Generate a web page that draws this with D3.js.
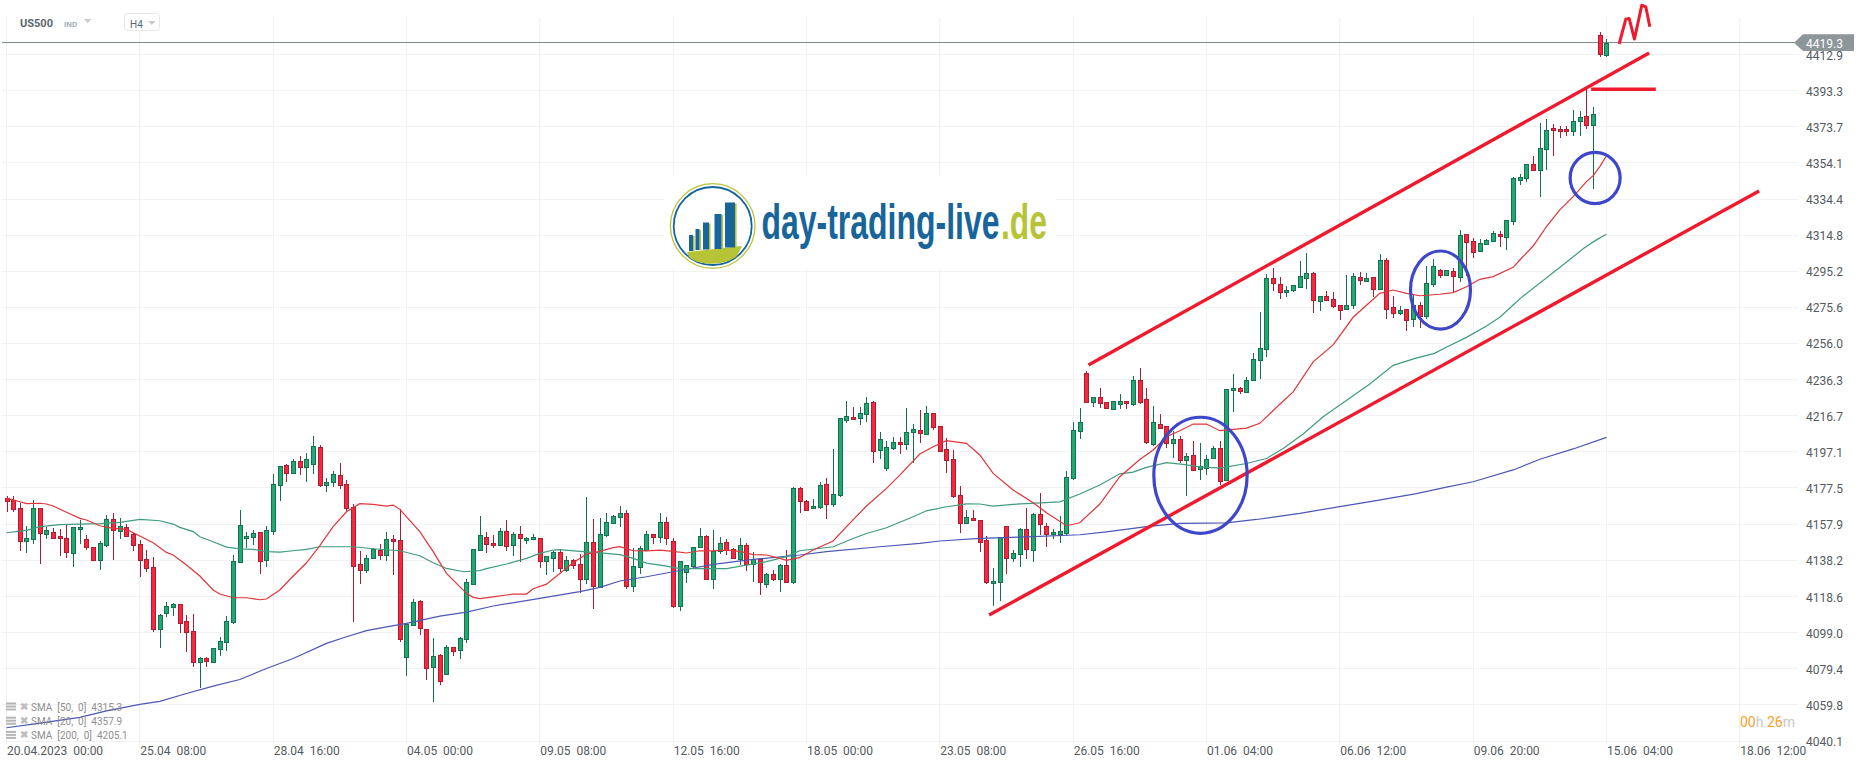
<!DOCTYPE html>
<html><head><meta charset="utf-8">
<script src="https://cdn.jsdelivr.net/npm/d3@7/dist/d3.min.js"></script>
<style>
html,body{margin:0;padding:0;background:#fff;overflow:hidden}
svg{display:block;font-family:Roboto,sans-serif}
text{white-space:pre}
</style></head><body><svg id="c" width="1866" height="767"></svg>
<script>
const open=[4171.9,4171,4166.4,4148.3,4149.6,4166.4,4152.1,4153.8,4151.2,4150.1,
4142,4154.9,4149.6,4145.3,4138,4146.2,4160.5,4154.3,4156.5,4152.5,
4146.9,4138.7,4134.4,4100.7,4109.4,4112.7,4114.3,4105.1,4099.6,4082.8,
4085,4082.8,4089.9,4093.7,4104.5,4137.1,4150,4150.7,4153.4,4138.2,
4153.8,4178.7,4189.8,4185.4,4192,4188.7,4190.3,4199.6,4178.7,4180.6,
4184.4,4179.5,4167,4136,4132.6,4139.1,4143.6,4140.7,4149.6,4149.1,
4085.9,4102.7,4115.9,4101.1,4079.9,4086.8,4076.1,4091.3,4089.3,4095.1,
4125.1,4143.6,4150.7,4147.4,4146.3,4153.9,4146.1,4152.3,4148.9,4149.6,
4150.1,4137.6,4139.6,4142.7,4132.7,4138.2,4136,4127.9,4148,4123.7,
4151.6,4158.3,4161.3,4163.7,4123.9,4134.2,4143.6,4152.3,4150.7,4158.8,
4148.5,4113,4131.7,4134.7,4145.1,4151.2,4127.9,4143.1,4148,4144.2,
4138.5,4146.3,4136,4138.7,4125.1,4130.6,4127.9,4135.5,4126.1,4177.3,
4170.6,4166.4,4167,4179.4,4168.6,4173.3,4214.2,4215.8,4215.3,4217.5,
4224,4197.9,4188.1,4199,4202.3,4201.2,4207.7,4208.8,4206.6,4218,
4210.9,4198.5,4193,4173.5,4158.3,4161,4159.9,4149,4125.7,4126.2,
4156.6,4139.3,4141.4,4155,4143.6,4163.2,4156.6,4152.3,4152.3,4152.8,
4182.7,4208.2,4239.7,4224,4226.7,4224,4220.7,4222.9,4224.5,4223.4,
4236.4,4225.6,4201.7,4212.5,4210.9,4201.7,4203.9,4192.5,4195.2,4187.6,
4188.7,4193.5,4199,4181.6,4230.5,4231.6,4229.7,4235.9,4246.8,4252.8,
4291.4,4288.1,4283.8,4284.8,4286.5,4291.4,4294.1,4278.9,4281.6,4280,
4276.7,4274.5,4276.7,4291.9,4289.7,4291.9,4285.4,4301.1,4275.6,4272.3,
4274.5,4269.1,4276.7,4270.7,4288.1,4295.7,4293,4295.2,4291.9,4315.2,
4311.4,4306,4309.8,4311.4,4315.2,4314,4322.1,4344.4,4345.7,4353.3,
4349.8,4361.2,4372.8,4372.3,4372.3,4371,4376.4,4379.3,4374.3,4423.5,4412.8];
const close=[4170.1,4165.9,4148.3,4150.1,4166.4,4152.9,4154.5,4150.7,4150,4142.4,
4156.1,4156.1,4145.1,4138,4147.4,4160.5,4154.3,4157,4151.6,4146.3,
4138,4133.9,4100.7,4108.3,4113.2,4114.3,4104,4098.9,4082.8,4085,
4083.2,4090.4,4094.2,4105.1,4137.7,4157.2,4151.2,4152.9,4137.5,4154.5,
4179.5,4189.2,4185.3,4192,4188.5,4193,4200.1,4178.7,4180.6,4184.9,
4178.9,4166.3,4134.8,4132.8,4139.3,4144.2,4140.7,4149.6,4148.3,4095.3,
4103.6,4115.4,4101.1,4079.9,4086.1,4072.9,4091,4089.1,4095.8,4126.3,
4144.2,4151.8,4146.9,4146.1,4153.9,4145.6,4152.3,4149.9,4150.1,4150.7,
4137.6,4140.4,4142.7,4134.2,4138.2,4135.5,4127.9,4148,4123.9,4152.3,
4158.8,4162.3,4163.7,4123.9,4134.9,4144.7,4152.3,4150.7,4158.8,4150.1,
4113,4137.6,4135.5,4145.2,4151.2,4127.9,4143.1,4147.4,4143.6,4139.3,
4146.3,4136,4138.7,4126.2,4130.6,4127.9,4135.5,4126.2,4177.3,4170.2,
4165.9,4167.7,4178.9,4168.6,4174,4215.3,4216.4,4214.7,4218,4223.4,
4197.4,4203.9,4199.5,4202.3,4201.2,4207.7,4209.3,4207.1,4218,4210.4,
4197.4,4192.5,4172.9,4158.3,4161.5,4159.9,4148,4126.2,4126.8,4150.7,
4139.3,4142,4155,4144.2,4163.2,4157.7,4152.3,4153.4,4153.9,4183.2,
4208.8,4213.1,4224,4226.7,4223.4,4220.7,4225,4224.5,4223.4,4236.4,
4224.5,4202.2,4213.6,4210.4,4201.7,4203.9,4192.3,4194.6,4187,4189.2,
4193.5,4199,4180.9,4231,4231.6,4229.7,4236.4,4247.3,4253.3,4291.4,
4288.6,4283.8,4284.8,4287.6,4292.4,4294.1,4279.4,4281.6,4279.4,4276,
4274,4276.7,4292.4,4290.3,4291.4,4285.4,4301.1,4274.5,4272.3,4274,
4268.5,4276.7,4270.7,4288.6,4297.9,4293,4295.7,4292.4,4314.7,4310.7,
4305.5,4310.4,4312,4315.8,4314.2,4323,4345.7,4346.2,4353.3,4349.8,
4362,4371.7,4371.5,4371,4371,4376.6,4378.8,4374.3,4380.4,4413.4,4419.3];
const high=[4173.1,4173.1,4169.5,4156.8,4171,4166.4,4156.5,4155.6,4155,4157.9,
4156.5,4160.1,4151.8,4145.6,4148.9,4162.8,4163.7,4161.2,4157.9,4152.9,
4149.2,4143.8,4140,4109.1,4115.6,4115,4114.3,4108.3,4109.1,4085.7,
4085.5,4090.4,4096.4,4108,4141.1,4165.5,4153.6,4154.5,4153.4,4156.8,
4184.9,4189.2,4190.3,4193.2,4194.7,4196.3,4205.7,4200.6,4182.7,4186.7,
4190.9,4181.6,4168.6,4143.3,4141.1,4144.7,4146.9,4153.6,4152,4165.9,
4103.6,4117,4116.5,4101.1,4096.2,4087.3,4092.2,4091.3,4096.7,4128.1,
4144.2,4162.3,4153.4,4151.9,4155.6,4160.1,4153.4,4156.8,4150.7,4152.3,
4150.1,4140.4,4143.2,4144.3,4140.4,4138.9,4141.6,4172.6,4160.6,4161.2,
4163.7,4162.8,4167.7,4165.3,4144.7,4146,4154.1,4152.3,4163.7,4161.7,
4150.1,4137.6,4135.5,4145.2,4155.6,4151.8,4154.6,4150.7,4149.6,4144.7,
4150.1,4147.4,4142.5,4139.3,4131.1,4132.7,4136,4143.6,4177.8,4177.8,
4170.9,4171.5,4180.5,4182.7,4198.5,4215.3,4224.5,4221.3,4221.3,4226.7,
4224.5,4207.7,4202.8,4205,4205,4220.7,4212,4219.6,4221.8,4218,
4210.9,4204.4,4197.9,4178.4,4165.3,4165.3,4159.9,4151.2,4133.8,4150.7,
4156.6,4143.6,4155.6,4166.4,4163.7,4174.6,4158.3,4155,4162.1,4186.5,
4213.1,4220.7,4241.1,4226.7,4231.6,4224,4225,4228.8,4224.5,4238.3,
4242.4,4231.6,4222,4217.6,4210.9,4208.6,4206,4196.3,4202.8,4201.7,
4195.2,4200.1,4202.8,4231,4239.3,4232.1,4237.5,4250.6,4272.9,4293.5,
4296.8,4291.9,4287,4287.6,4300.6,4304.9,4294.6,4281.6,4284.3,4283.8,
4276.7,4293,4294.1,4294.6,4294.1,4291.9,4304.4,4302.2,4281.6,4276.2,
4274.5,4282.1,4278.3,4297.9,4301.7,4296.2,4295.7,4296.8,4317.6,4315.2,
4313.1,4312.5,4312.5,4316.9,4316.9,4323,4346.6,4348,4353.3,4357.8,
4375.5,4377.9,4375.2,4374.1,4374.1,4382.8,4382,4394,4384.2,4425.1,4421.1];
const low=[4164.6,4164.6,4143.4,4142.4,4147.1,4136.2,4150,4150.7,4140.6,4139.6,
4134.8,4147.1,4143.8,4138,4132.9,4145.6,4138.4,4150,4151.4,4143.4,
4129.3,4131.7,4099.5,4090.8,4107.6,4108.2,4098.9,4088.4,4080.5,4068.7,
4080.5,4082.8,4086.4,4089.1,4103.4,4137.1,4144.7,4146.7,4131,4134.8,
4152,4170.6,4180.7,4185.4,4184.5,4180.7,4185.3,4178.2,4175.5,4178.2,
4176.9,4165.2,4104.9,4125.3,4131.5,4139.1,4138.4,4137.8,4130.2,4094,
4075.6,4102.7,4097.7,4073.4,4061.5,4070.5,4076.1,4086.4,4084.8,4093.1,
4125.1,4143.6,4142.3,4145.1,4146.3,4143.4,4140.7,4137.1,4147.2,4149.6,
4134.2,4130.4,4132,4132,4132,4133.7,4120.3,4125.5,4111.9,4123.7,
4151,4158.3,4156.5,4122.8,4121.2,4130.9,4143.6,4147.2,4147.8,4146.7,
4112.5,4110.8,4126.1,4133.7,4145.1,4127.9,4122.6,4141.6,4141.3,4139.3,
4135.5,4132.6,4126.6,4119.5,4123.3,4126.8,4121.2,4125.7,4125.5,4164.1,
4165.9,4166.4,4165.9,4160.4,4167,4172.7,4212.9,4214.7,4211.8,4213.5,
4191.2,4193,4186.5,4197.9,4196.1,4197.9,4190.8,4201.7,4206.1,4208.8,
4197.4,4185.4,4171.8,4152.8,4158.3,4159.4,4142.5,4125.1,4113.6,4116.3,
4130.9,4137.1,4134.7,4138.7,4137.1,4151.8,4145.6,4149.6,4147.4,4151.2,
4181.6,4203.9,4223.4,4221.6,4220.9,4220.2,4220.3,4220.3,4220.3,4222.1,
4223,4201.5,4200.1,4210.4,4199.3,4193.9,4191.2,4173.3,4186.7,4181.8,
4184.5,4193,4179.1,4181.6,4218.9,4228.7,4229.4,4235.9,4236.5,4248.8,
4284.7,4280.1,4281.4,4284.1,4286.5,4285.4,4272.7,4273.8,4279.4,4275.4,
4268.5,4274,4274.5,4287.6,4289.2,4281.4,4284.8,4269.1,4269.6,4271.3,
4262.6,4264.7,4264.2,4269.1,4286.5,4291.4,4292.4,4283.2,4289.2,4292.4,
4302.2,4305.5,4309.8,4310.9,4308.2,4306.7,4320.3,4342,4343.5,4349.8,
4335.7,4350.2,4357.8,4367.6,4368.7,4368.7,4368.7,4372.5,4339.7,4411.7,4411.7];

const sma20Bar=[0,1,2,3,5,6,7,9,11,12,14,16,18,20,22,24,25,27,29,31,32,34,36,38,39,41,43,45,47,49,51,53,55,57,58,59,62,64,66,69,70,71,73,76,78,79,81,83,85,87,89,91,92,94,96,98,100,102,104,106,108,110,112,114,116,117,119,121,124,126,129,132,134,137,139,141,144,146,148,151,154,156,159,161,164,167,170,172,174,176,178,180,182,184,186,188,191,193,196,199,202,204,206,208,210,212,215,217,219,221,223,226,227,229,231,233,235,237,238,239,240];
const sma20=[4171.9,4171,4170,4169,4169.2,4168.8,4167.7,4164.3,4161,4160.1,4157,4155.6,4155,4151.4,4147.8,4142.5,4141.1,4135.7,4129.7,4122.1,4119.9,4117.9,4117.9,4116.8,4117.2,4122.1,4129.7,4136.9,4146.2,4156.5,4164.6,4169,4168.6,4167.7,4168.2,4165.9,4153.8,4142.9,4131.1,4120.3,4118.1,4117.4,4118.4,4119.9,4119.9,4122.8,4125.3,4131.1,4136.9,4141.6,4143.1,4145.1,4145.6,4143.4,4143.3,4143.8,4143.1,4142.2,4143.4,4143.4,4143.8,4143.1,4141.3,4141.1,4139.3,4138.2,4139.8,4143.8,4148.7,4156.5,4167.7,4177.3,4184.5,4195.9,4199.9,4203.2,4201.7,4195.4,4185.4,4176.4,4169.5,4164.1,4157,4158.6,4168.8,4183.6,4193,4198.1,4205.3,4208.6,4212.2,4212.2,4208.6,4209.3,4210,4212.6,4223,4229.7,4246,4255.2,4270.2,4276.7,4283.2,4285,4283.2,4281.9,4282.7,4283.6,4286.8,4290.8,4292.3,4297.3,4301.3,4308.9,4319.4,4328.5,4335.7,4343.9,4347.1,4352,4357.9];

const sma50Bar=[0,3,5,8,11,14,17,20,23,25,26,28,29,31,33,35,37,39,41,43,45,47,50,52,55,59,62,64,66,68.6,71,72,75,78,80,82,83,86,89,92,94,96,99,101,104,108,111,114,117,119,124,127,129,132,136,138,141,144,146,148,151,158,161,164,167,169,171,174,176.5,179,182,186,189,191.5,194.5,197.5,200.6,204.5,208,211.3,214.2,216.2,219,222,224,226,227.4,234.4,236.6,238.6,240];
const sma50=[4153.2,4154.5,4156.5,4157.6,4157.9,4158.1,4158.8,4160.5,4159.7,4157.9,4156.1,4153.8,4151,4148.3,4145.4,4144.4,4144.2,4142.9,4142.7,4143.4,4144.2,4145.6,4145.6,4145.6,4144.5,4143.4,4140.7,4136.9,4133.8,4132,4132.6,4133.7,4136.2,4139.3,4142,4143.8,4144,4143.1,4142.3,4141.3,4139.3,4136.7,4135.1,4133.7,4133.7,4133.7,4135.6,4137.5,4140.2,4143.4,4145.6,4150.1,4152.8,4155.9,4161.9,4165.1,4167.3,4168.9,4168.8,4167.7,4168.6,4170,4174.2,4179.1,4185.2,4186.1,4188.7,4191.3,4190.3,4189,4188.3,4190.8,4193.5,4199,4206.8,4216.2,4224,4234,4244.1,4247.9,4250.6,4254.3,4259.3,4265.5,4270.2,4276.9,4281.4,4301.3,4307.7,4312.5,4315.3];

const sma200Bar=[0,4,11,15,20,23,27,31,35,39,43,48,51,54,57,60,65,69,73,80,86,89,92,96,100,106,112,119,123,131,137,140,146,153,161,165,171,176,183,187.5,194,200,205,211.5,216,220,226,230,235,240];
const sma200=[4047.3,4049.3,4052.9,4056.5,4060,4061.6,4065.9,4069.9,4073.5,4079.5,4084.9,4093.1,4096.7,4100,4102.1,4104,4107.9,4110.1,4113.4,4117.6,4121.2,4123.5,4127,4129.3,4132,4136,4138.7,4141.1,4142.9,4145.6,4147.4,4148.7,4150.1,4151,4152.1,4153.7,4156.5,4158.3,4158.6,4160.4,4163.7,4167.4,4170.4,4174.4,4178,4180.9,4187.3,4193.1,4198.7,4205];

const priceTicks=[4412.9,4393.3,4373.7,4354.1,4334.4,4314.8,4295.2,4275.6,4256.0,4236.3,4216.7,4197.1,4177.5,4157.9,4138.2,4118.6,4099.0,4079.4,4059.8,4040.1];
const timeTickBars=[0,20,40,60,80,100,120,140,160,180,200,220,240,260];
const timeTickLabels=["20.04.2023  00:00","25.04  08:00","28.04  16:00","04.05  00:00","09.05  08:00","12.05  16:00","18.05  00:00","23.05  08:00","26.05  16:00","01.06  04:00","06.06  12:00","09.06  20:00","15.06  04:00","18.06  12:00"];
const lastPrice=4419.3;
const legendLabels=["SMA  [50,  0]  4315.3","SMA  [20,  0]  4357.9","SMA  [200,  0]  4205.1"];

// hand-drawn annotations, in chart units (bar index, price)
const channelUpper=[[162.3,4244.3],[246.4,4413.7]];
const channelLower=[[147.4,4108.5],[262.9,4338.8]];
const highLevel=[[237.7,4394],[247.4,4394]];
const zigzag=[[241.9,4418.6],[242.9,4432.1],[243.4,4432.5],[244.2,4421.3],[245.3,4439.7],[245.9,4438.8],[246.5,4428]];
const circles=[{bar:179.1,price:4184.4,bars:7,pts:31.5},{bar:215.1,price:4285,bars:4.5,pts:21.2},{bar:238.3,price:4345.8,bars:3.75,pts:13.9}];

const svg=d3.select("#c");
const x=d3.scaleLinear().domain([0,260]).range([6.5,1739.8]);
const y=d3.scaleLinear().domain([4040.1,4412.9]).range([741,54.5]);
const GRID="#f2f2f3", TXT="#555a5e";

// grid
const grid=svg.append("g").attr("shape-rendering","crispEdges").attr("stroke",GRID);
grid.selectAll("line.h").data(priceTicks).join("line").attr("x1",2).attr("x2",1798).attr("y1",d=>y(d)).attr("y2",d=>y(d));
grid.selectAll("line.v").data(timeTickBars).join("line").attr("x1",d=>x(d)).attr("x2",d=>x(d)).attr("y1",18).attr("y2",745);

// axes
const yAxis=d3.axisRight(y).tickValues(priceTicks).tickSize(0).tickPadding(0).tickFormat(d3.format(".1f"));
const gy=svg.append("g").attr("transform","translate(1806,0)").call(yAxis);
gy.select(".domain").remove();
gy.selectAll("text").attr("font-size",12).attr("font-family","Roboto").attr("fill",TXT).attr("dy","0.38em");
const xAxis=d3.axisBottom(x).tickValues(timeTickBars).tickSize(0).tickPadding(0).tickFormat((d,i)=>timeTickLabels[i]);
const gx=svg.append("g").attr("transform","translate(0,746)").call(xAxis);
gx.select(".domain").remove();
gx.selectAll("text").attr("font-size",12).attr("font-family","Roboto").attr("fill",TXT).attr("text-anchor","start").attr("dy","0.71em");

// price line
svg.append("line").attr("x1",2).attr("x2",1796).attr("y1",y(lastPrice)).attr("y2",y(lastPrice)).attr("stroke","#7f8b8d").attr("stroke-width",1).attr("shape-rendering","crispEdges");

// candles
const data=open.map((o,i)=>({i,o,h:high[i],l:low[i],c:close[i]}));
const up=d=>d.c>=d.o;
const cg=svg.append("g").attr("shape-rendering","crispEdges");
cg.selectAll("line").data(data).join("line")
 .attr("x1",d=>Math.round(x(d.i))+0.5).attr("x2",d=>Math.round(x(d.i))+0.5)
 .attr("y1",d=>y(d.h)).attr("y2",d=>y(d.l))
 .attr("stroke",d=>up(d)?"#136f4c":"#aa1c30");
cg.selectAll("rect").data(data).join("rect")
 .attr("width",4).attr("stroke-width",1)
 .attr("y",d=>Math.round(y(Math.max(d.o,d.c)))+0.5)
 .attr("height",d=>Math.max(1,Math.round(Math.abs(y(d.o)-y(d.c)))))
 .attr("x",d=>Math.round(x(d.i))-1.5)
 .attr("fill",d=>up(d)?"#22a971":"#f6283f")
 .attr("stroke",d=>up(d)?"#14734e":"#b01c31");

// moving averages
const lineOf=(bars,vals)=>d3.line().x((d,i)=>x(bars[i])).y(d=>y(d))(vals);
const smaG=svg.append("g").attr("fill","none").attr("stroke-width",1.2);
smaG.append("path").attr("d",lineOf(sma200Bar,sma200)).attr("stroke","#4c57b4");
smaG.append("path").attr("d",lineOf(sma50Bar,sma50)).attr("stroke","#3f9c7c");
smaG.append("path").attr("d",lineOf(sma20Bar,sma20)).attr("stroke","#e0353a");

// annotations
const annLine=d3.line().x(d=>x(d[0])).y(d=>y(d[1]));
const ann=svg.append("g").attr("fill","none").attr("stroke","#f01a2e").attr("stroke-width",3.4);
[channelUpper,channelLower,highLevel].forEach(p=>ann.append("path").attr("d",annLine(p)));
ann.append("path").attr("d",annLine(zigzag)).attr("stroke-width",3).attr("stroke-linejoin","round");
svg.append("g").attr("fill","none").attr("stroke","#3e47c9").attr("stroke-width",3.2)
 .selectAll("ellipse").data(circles).join("ellipse")
 .attr("cx",d=>x(d.bar)).attr("cy",d=>y(d.price))
 .attr("rx",d=>x(d.bars)-x(0)).attr("ry",d=>y(4100)-y(4100+d.pts));

// last price tag
const ty=y(lastPrice);
svg.append("path").attr("d",`M1794,${ty}L1803,${ty-8.5}H1854V${ty+8.2}H1803Z`).attr("fill","#8d9698");
svg.append("text").attr("x",1806).attr("y",ty+4.8).attr("font-size",12).attr("fill","#fff").text(d3.format(".1f")(lastPrice));

// countdown
const cd=svg.append("text").attr("x",1740).attr("y",727).attr("font-size",14);
cd.append("tspan").attr("fill","#f9a02f").text("00");
cd.append("tspan").attr("fill","#c6c9cb").text("h ");
cd.append("tspan").attr("fill","#f9a02f").text("26");
cd.append("tspan").attr("fill","#c6c9cb").text("m");

// header
svg.append("text").attr("x",20).attr("y",27).attr("font-size",11).attr("font-weight",700).attr("fill","#5b666e").text("US500");
svg.append("text").attr("x",64).attr("y",26.5).attr("font-size",8).attr("font-weight",700).attr("fill","#a5b0b6").text("IND");
svg.append("path").attr("d","M84,19H91.5L87.8,23Z").attr("fill","#c9c9c9");
svg.append("rect").attr("x",124.5).attr("y",13.5).attr("width",35).attr("height",17).attr("rx",3).attr("fill","#fff").attr("stroke","#e8e8e8");
svg.append("text").attr("x",130).attr("y",28).attr("font-size",10).attr("fill","#5b666e").text("H4");
svg.append("path").attr("d","M148,21H155.5L151.8,25Z").attr("fill","#c9c9c9");

// legend
const lg=svg.append("g");
legendLabels.forEach((t,i)=>{
  const yy=707+i*14.2;
  [-4,-1,2].forEach(o=>lg.append("rect").attr("x",6).attr("y",yy+o-0.5).attr("width",10).attr("height",2).attr("fill","#b5b5b5"));
  lg.append("text").attr("x",24).attr("y",yy+2.5).attr("text-anchor","middle").attr("font-size",10).attr("font-weight",700).attr("fill","#bdbdbd").text("✖");
  lg.append("text").attr("x",31).attr("y",yy+4).attr("font-size",10).attr("fill","#8a8a8a").attr("opacity",.95).text(t);
});

// logo
const logo=svg.append("g");
logo.append("rect").attr("x",664).attr("y",176).attr("width",392).attr("height",92).attr("fill","#fff");
logo.append("circle").attr("cx",712.7).attr("cy",226).attr("r",42.3).attr("fill","#fff").attr("stroke","#b7c437").attr("stroke-width",1.3);
logo.append("circle").attr("cx",712.7).attr("cy",226).attr("r",39).attr("fill","#fff").attr("stroke","#17659a").attr("stroke-width",1.8);
logo.append("path").attr("d","M687,252L742,246L737,256C729,264 701,268 689,257Z").attr("fill","#b7c437");
[[689,235,4,16],[695.5,229,4,21],[703,222.5,6,27],[714.5,214,7,35],[725,202.5,10,45]].forEach(b=>{
  logo.append("rect").attr("x",b[0]+b[2]).attr("y",b[1]+1).attr("width",1.6).attr("height",b[3]-1).attr("fill","#b7c437");
  logo.append("rect").attr("x",b[0]).attr("y",b[1]).attr("width",b[2]).attr("height",b[3]).attr("fill","#17659a");
});
const lf='"Liberation Sans Narrow","Liberation Sans",sans-serif';
logo.append("text").attr("x",761.5).attr("y",239).attr("font-family",lf).attr("font-weight",700).attr("font-size",50)
 .attr("textLength",238).attr("lengthAdjust","spacingAndGlyphs").attr("fill","#17659a").text("day-trading-live");
logo.append("text").attr("x",1001).attr("y",239).attr("font-family",lf).attr("font-weight",700).attr("font-size",50)
 .attr("textLength",46).attr("lengthAdjust","spacingAndGlyphs").attr("fill","#b7c437").text(".de");
</script></body></html>
